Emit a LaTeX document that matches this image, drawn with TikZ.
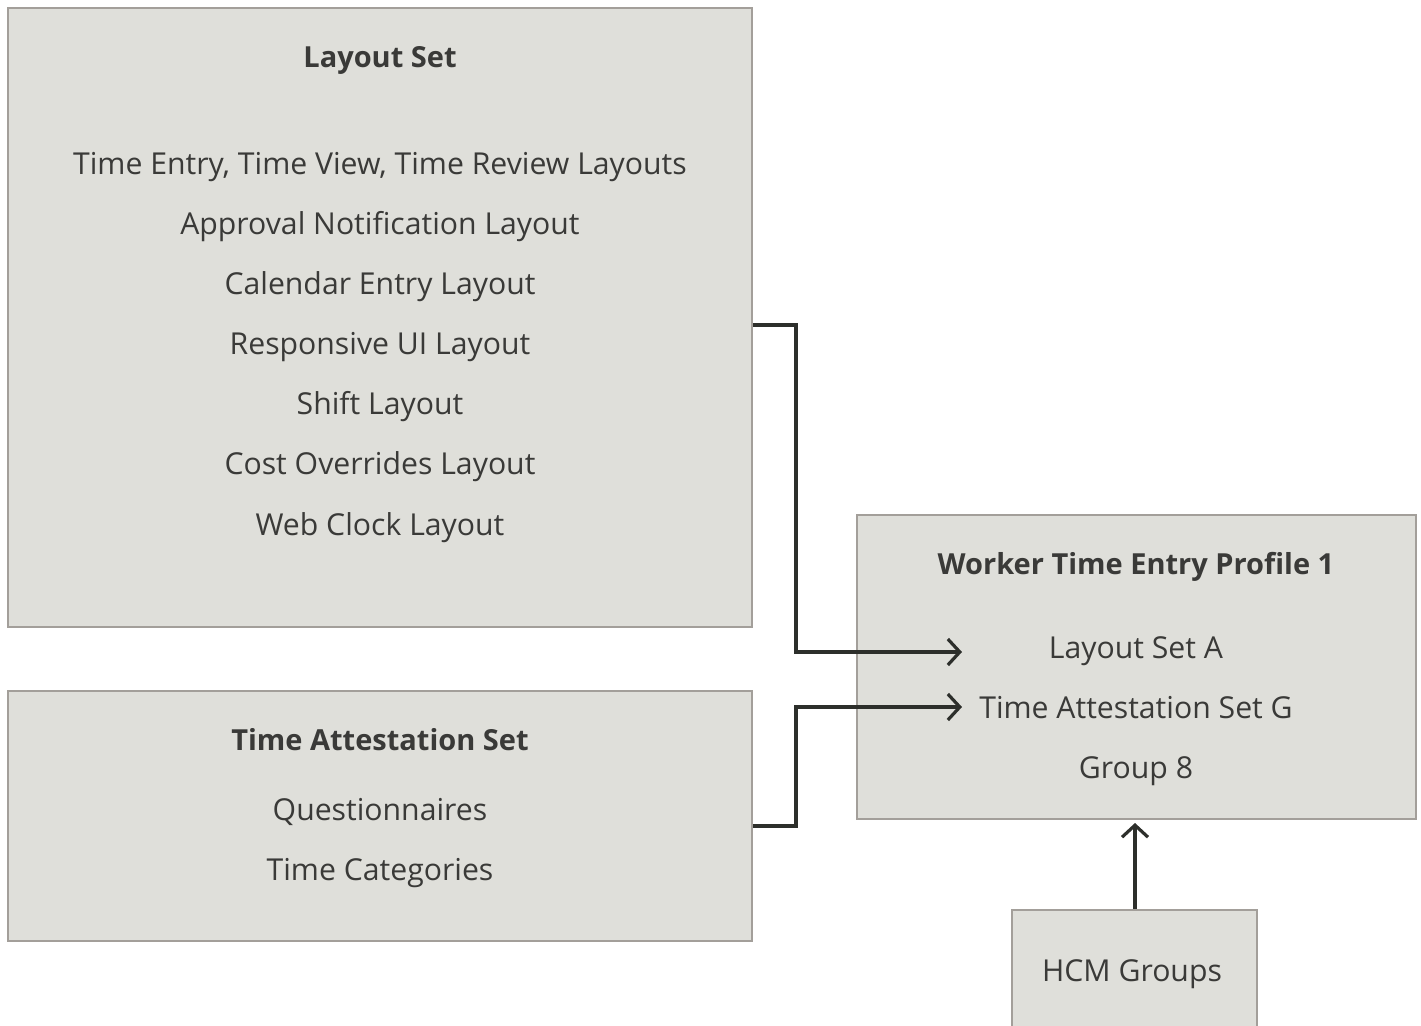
\documentclass[tikz,border=0pt]{standalone}
\usepackage{fontspec}
\setmainfont{Open Sans}
\usetikzlibrary{arrows.meta}
\definecolor{fond}{RGB}{223,223,218}
\definecolor{bord}{RGB}{163,159,154}
\definecolor{trait}{RGB}{45,47,43}
\definecolor{texte}{RGB}{58,58,56}

\begin{document}
\begin{tikzpicture}[x=0.5pt,y=-0.5pt,font=\fontsize{15.1}{18}\selectfont]
\tikzstyle{lien}=[-{Straight Barb[length=6pt,width=13pt]},line width=1.6pt,draw=trait]
\tikzset{bloc/.style={draw=bord,line width=1pt,fill=fond,inner sep=0pt},
ligne/.style={anchor=base,text=texte,inner sep=0pt},
titre/.style={ligne,font=\fontsize{14.5}{17}\selectfont\bfseries}}
\clip (0,0) rectangle (1421,1025);
\node[bloc,minimum width=372pt,minimum height=309.5pt] (LS) at (380,317.5) {};
\node[bloc,minimum width=372pt,minimum height=125pt] (TA) at (380,816) {};
\node[bloc,minimum width=279.5pt,minimum height=152pt] (WP) at (1136.5,667) {};
\node[bloc,minimum width=122.5pt,minimum height=75pt] (HG) at (1134.5,985) {};

\node[titre] (LS0) at (380,67) {Layout Set};
\node[ligne] (LS1) at (380,174) {Time Entry, Time View, Time Review Layouts};
\node[ligne] (LS2) at (380,234) {Approval Notification Layout};
\node[ligne] (LS3) at (380,294) {Calendar Entry Layout};
\node[ligne] (LS4) at (380,354) {Responsive UI Layout};
\node[ligne] (LS5) at (380,414) {Shift Layout};
\node[ligne] (LS6) at (380,474) {Cost Overrides Layout};
\node[ligne] (LS7) at (380,535) {Web Clock Layout};

\node[titre] (TA0) at (380,750) {Time Attestation Set};
\node[ligne] (TA1) at (380,820) {Questionnaires};
\node[ligne] (TA2) at (380,880) {Time Categories};

\node[titre] (WP0) at (1136,574) {Worker Time Entry Profile 1};
\node[ligne] (WP1) at (1136,658) {Layout Set A};
\node[ligne] (WP2) at (1136,718) {Time Attestation Set G};
\node[ligne] (WP3) at (1136,778) {Group 8};

\node[ligne] (HG1) at (1132,981) {HCM Groups};

\coordinate (pA) at (962,652);
\coordinate (pG) at (962,707);

\draw[lien] ([yshift=-3.75pt]LS.east) -| (796,652) -- (pA);
\draw[lien] ([yshift=-5pt]TA.east) -| (796,707) -- (pG);
\draw[lien] (HG.north -| 1135,0) -- ([yshift=-1.5pt]WP.south -| 1135,0);

\end{tikzpicture}
\end{document}
